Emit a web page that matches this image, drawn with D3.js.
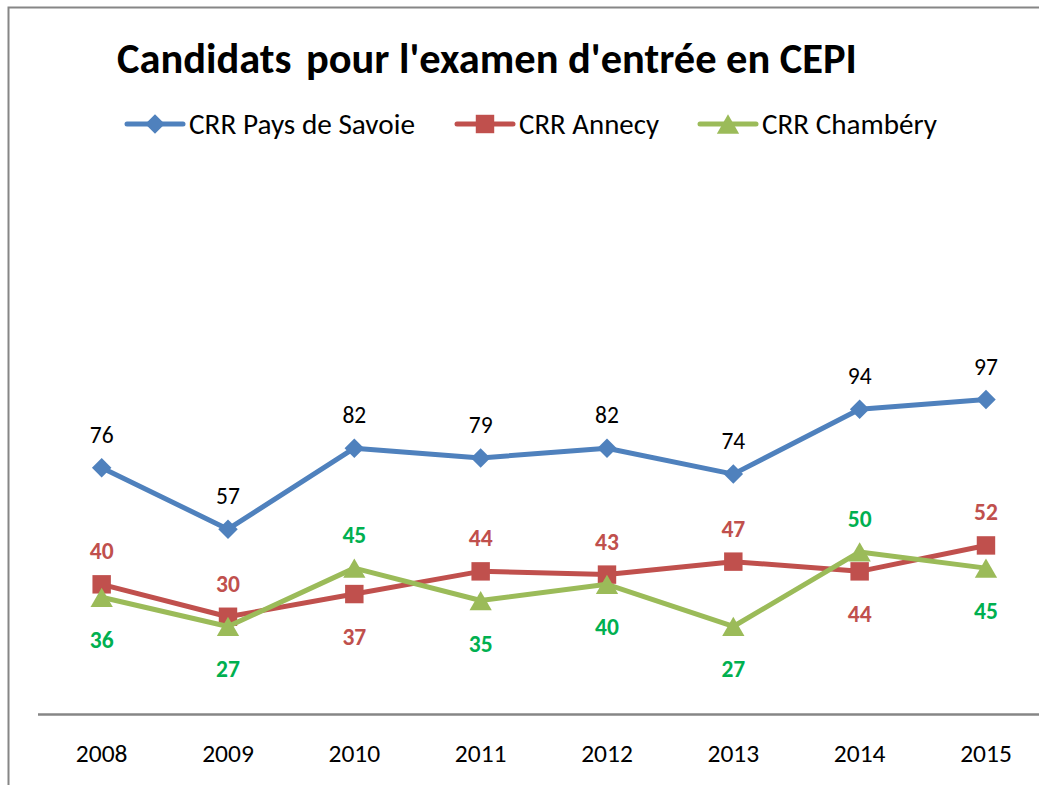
<!DOCTYPE html>
<html>
<head>
<meta charset="utf-8">
<script src="https://cdn.jsdelivr.net/npm/d3@7"></script>
<style>
  body { margin: 0; background: #fff; }
  svg text { font-family: Carlito, Calibri, Lato, sans-serif; }
</style>
</head>
<body>
<svg id="chart"></svg>
<script>
// data
var years = ["2008", "2009", "2010", "2011", "2012", "2013", "2014", "2015"];
var savoie = [76, 57, 82, 79, 82, 74, 94, 97];
var annecy = [40, 30, 37, 44, 43, 47, 44, 52];
var chambery = [36, 27, 45, 35, 40, 27, 50, 45];
// where each label sits: "a" above the point, "b" below
var annecyPos = ["a", "a", "b", "a", "a", "a", "b", "a"];
var chamberyPos = ["b", "b", "a", "b", "b", "b", "a", "b"];
var savoiePos = ["a", "a", "a", "a", "a", "a", "a", "a"];

var series = [
  {name: "CRR Pays de Savoie", values: savoie, pos: savoiePos, color: "#4F81BD", label: "#000", bold: false, marker: "diamond"},
  {name: "CRR Annecy", values: annecy, pos: annecyPos, color: "#C0504D", label: "#C0504D", bold: true, marker: "square"},
  {name: "CRR Chambéry", values: chambery, pos: chamberyPos, color: "#9BBB59", label: "#00B050", bold: true, marker: "triangle"}
];

var W = 1039, H = 785;
var svg = d3.select("#chart").attr("width", W).attr("height", H);

// chart border (cropped at right and bottom)
svg.append("rect")
  .attr("x", 8.5).attr("y", 7.5)
  .attr("width", 1200).attr("height", 1000)
  .attr("fill", "none")
  .attr("stroke", "#868686")
  .attr("stroke-width", 2);

var x = d3.scaleBand().domain(years).range([38.5, 38.5 + 8 * 126.33]),
    y = d3.scaleLinear().domain([0, 120]).range([714, 325]);

function cx(i) { return x(years[i]) + x.bandwidth() / 2; }

// x axis line and labels
var xAxis = d3.axisBottom(x).tickSize(0).tickPadding(0);
var xg = svg.append("g").attr("transform", "translate(0,714.5)").call(xAxis);
xg.select(".domain").attr("stroke", "#868686").attr("stroke-width", 2.5)
  .attr("d", "M38,0H" + W);
xg.selectAll("text")
  .attr("y", 47).attr("dy", null)
  .style("font-size", "25.5px")
  .style("font-family", "Carlito, Calibri, Lato, sans-serif")
  .attr("fill", "#000");

function markerPath(type) {
  if (type == "diamond") return d3.symbol().type(d3.symbolSquare).size(190)();
  if (type == "square") return d3.symbol().type(d3.symbolSquare).size(340)();
  return d3.symbol().type(d3.symbolTriangle).size(215)();
}
function markerTransform(type, px, py) {
  if (type == "diamond") return "translate(" + px + "," + py + ") rotate(45)";
  if (type == "triangle") return "translate(" + px + "," + (py + 3.2) + ")";
  return "translate(" + px + "," + py + ")";
}

var line = d3.line()
  .x(function(d, i) { return cx(i); })
  .y(function(d) { return y(d); });

// draw Savoie first, then Annecy, then Chambéry on top
series.forEach(function(s) {
  var g = svg.append("g");
  g.append("path")
    .attr("d", line(s.values))
    .attr("fill", "none")
    .attr("stroke", s.color)
    .attr("stroke-width", 5)
    .attr("stroke-linejoin", "round");
  g.selectAll(".m").data(s.values).enter().append("path")
    .attr("d", markerPath(s.marker))
    .attr("transform", function(d, i) { return markerTransform(s.marker, cx(i), y(d)); })
    .attr("fill", s.color);
});

series.forEach(function(s) {
  svg.append("g").selectAll("text").data(s.values).enter().append("text")
    .attr("x", function(d, i) { return cx(i); })
    .attr("y", function(d, i) { return s.pos[i] == "a" ? y(d) - 25 : y(d) + 51; })
    .attr("text-anchor", "middle")
    .attr("fill", s.label)
    .style("font-size", "23.5px")
    .style("font-weight", s.bold ? "bold" : "normal")
    .text(function(d) { return d; });
});

// fit a text's width to the reference by adjusting font size
function fit(t, width) {
  var fs = parseFloat(t.style("font-size"));
  var w = t.node().getComputedTextLength();
  t.style("font-size", (fs * width / w).toFixed(2) + "px");
}

var title = svg.append("text")
  .attr("x", 117).attr("y", 73)
  .style("font-size", "32px")
  .style("font-weight", "bold")
  .attr("fill", "#000");
title.append("tspan").text("Candidats");
title.append("tspan").attr("dx", 5).text(" pour l'examen d'entrée en CEPI");
fit(title, 735);

// legend
var legendX = [127, 457, 700];
var legendW = [226, 140, 175];
series.forEach(function(s, i) {
  var lg = svg.append("g").attr("transform", "translate(" + legendX[i] + ",124)");
  lg.append("line").attr("x1", 0).attr("x2", 56)
    .attr("stroke", s.color).attr("stroke-width", 5).attr("stroke-linecap", "round");
  lg.append("path")
    .attr("d", markerPath(s.marker))
    .attr("transform", markerTransform(s.marker, 28, 0))
    .attr("fill", s.color);
  var t = lg.append("text")
    .attr("x", 62).attr("y", 10)
    .style("font-size", "22px")
    .attr("fill", "#000")
    .text(s.name);
  fit(t, legendW[i]);
});
</script>
</body>
</html>
